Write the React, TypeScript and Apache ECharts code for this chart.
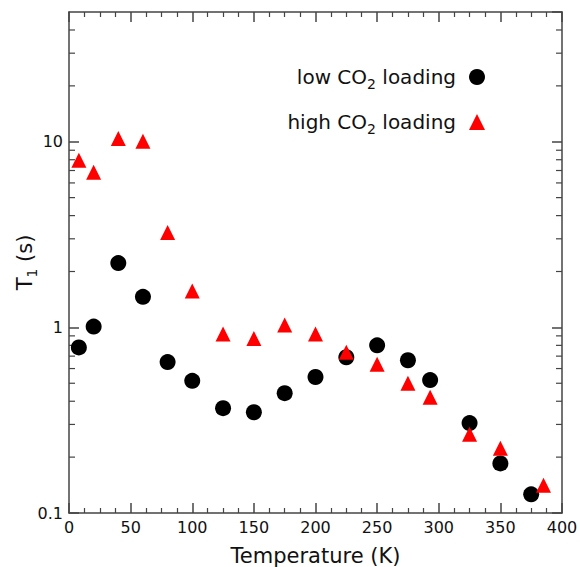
import React, { useEffect, useRef } from "react";
import * as echarts from "echarts";

// Temperature (K)
const lowT = [8, 20, 40, 60, 80, 100, 125, 150, 175, 200, 225, 250, 275, 293, 325, 350, 375];
// T1 (s), low CO2 loading
const lowT1 = [0.78, 1.01, 2.22, 1.46, 0.65, 0.515, 0.367, 0.349, 0.442, 0.54, 0.69, 0.80, 0.665, 0.52, 0.305, 0.185, 0.126];
const highT = [8, 20, 40, 60, 80, 100, 125, 150, 175, 200, 225, 250, 275, 293, 325, 350, 385];
// T1 (s), high CO2 loading
const highT1 = [7.94, 6.84, 10.4, 10.05, 3.24, 1.57, 0.92, 0.87, 1.03, 0.92, 0.735, 0.633, 0.5, 0.42, 0.266, 0.223, 0.141];

const yMinorTicks = [0.2, 0.3, 0.4, 0.5, 0.6, 0.7, 0.8, 0.9, 2, 3, 4, 5, 6, 7, 8, 9, 20, 30, 40];
const xTicks = { min: 0, max: 400, interval: 50 };
const yRange = { min: 0.1, max: 50 };

const FONT = "DejaVu Sans";
const AXIS_COLOR = "#444";
const TEXT_COLOR = "#111";

export default function App() {
  const ref = useRef<HTMLDivElement>(null);

  useEffect(() => {
    document.body.style.margin = "0";
    const chart = echarts.init(ref.current!, null, { renderer: "svg" });

    const commonX = {
      type: "value",
      min: xTicks.min,
      max: xTicks.max,
      interval: xTicks.interval,
      axisLine: { show: true, onZero: false, lineStyle: { color: AXIS_COLOR, width: 1.5 } },
      axisTick: { show: true, inside: true, length: 10, lineStyle: { color: AXIS_COLOR, width: 1.5 } },
      minorTick: { show: true, splitNumber: 4, length: 5, lineStyle: { color: AXIS_COLOR, width: 1.2 } },
      splitLine: { show: false },
    };
    const commonY = {
      type: "log",
      logBase: 10,
      min: yRange.min,
      max: yRange.max,
      axisLine: { show: true, onZero: false, lineStyle: { color: AXIS_COLOR, width: 1.5 } },
      axisTick: { show: true, inside: true, length: 10, lineStyle: { color: AXIS_COLOR, width: 1.5 } },
      splitLine: { show: false },
    };

    const legendRich = {
      a: { fontSize: 20, fontFamily: FONT, color: TEXT_COLOR },
      b: { fontSize: 14, fontFamily: FONT, color: TEXT_COLOR, verticalAlign: "bottom", padding: [0, 0, -4, 0] },
    };
    const legendFormatter = (name: string) =>
      name.startsWith("low") ? "{a|low CO}{b|2}{a| loading}" : "{a|high CO}{b|2}{a| loading}";

    const option: any = {
      animation: false,
      backgroundColor: "#fff",
      grid: { left: 69, right: 18, top: 12, bottom: 54, containLabel: false, outerBoundsMode: "none" },
      legend: [
        {
          data: ["low CO2 loading"],
          orient: "vertical",
          align: "right",
          right: 95,
          top: 67,
          padding: 0,
          itemWidth: 16,
          itemHeight: 16,
          formatter: legendFormatter,
          textStyle: { rich: legendRich, padding: [0, 8, 0, 0] },
        },
        {
          data: ["high CO2 loading"],
          orient: "vertical",
          align: "right",
          right: 95,
          top: 112,
          padding: 0,
          itemWidth: 16,
          itemHeight: 16,
          formatter: legendFormatter,
          textStyle: { rich: legendRich, padding: [0, 8, 0, 0] },
        },
      ],
      xAxis: [
        {
          ...commonX,
          position: "bottom",
          name: "Temperature (K)",
          nameLocation: "middle",
          nameGap: 32,
          nameMoveOverlap: false,
          nameTextStyle: { fontSize: 21, fontFamily: FONT, color: TEXT_COLOR },
          axisLabel: { fontSize: 16, fontFamily: FONT, color: TEXT_COLOR, margin: 6 },
        },
        {
          ...commonX,
          position: "top",
          axisLabel: { show: false },
        },
      ],
      yAxis: [
        {
          ...commonY,
          position: "left",
          name: "{a|T}{b|1}{a| (s)}",
          nameLocation: "middle",
          nameGap: 34,
          nameMoveOverlap: false,
          nameTextStyle: {
            rich: {
              a: { fontSize: 21, fontFamily: FONT, color: TEXT_COLOR },
              b: { fontSize: 14, fontFamily: FONT, color: TEXT_COLOR, verticalAlign: "bottom", padding: [0, 0, -4, 0] },
            },
          },
          axisLabel: {
            fontSize: 16,
            fontFamily: FONT,
            color: TEXT_COLOR,
            margin: 6,
            showMaxLabel: false,
            formatter: (v: number) => (v >= 1 ? String(Math.round(v)) : String(+v.toFixed(2))),
          },
        },
        {
          ...commonY,
          position: "right",
          axisLabel: { show: false },
        },
      ],
      series: [
        {
          name: "low CO2 loading",
          type: "scatter",
          symbol: "circle",
          symbolSize: 16,
          itemStyle: { color: "#000", opacity: 1 },
          data: lowT.map((t, i) => [t, lowT1[i]]),
          z: 3,
        },
        {
          name: "high CO2 loading",
          type: "scatter",
          symbol: "triangle",
          symbolSize: 15,
          itemStyle: { color: "#ff0000", opacity: 1 },
          data: highT.map((t, i) => [t, highT1[i]]),
          z: 4,
        },
        {
          name: "yMinorTicks",
          type: "custom",
          silent: true,
          clip: false,
          data: yMinorTicks.map((v) => [xTicks.min, v]),
          renderItem: (params: any, api: any) => {
            const v = api.value(1);
            const pl = api.coord([xTicks.min, v]);
            const pr = api.coord([xTicks.max, v]);
            const style = { stroke: AXIS_COLOR, lineWidth: 1.2 };
            return {
              type: "group",
              children: [
                { type: "line", shape: { x1: pl[0], y1: pl[1], x2: pl[0] + 6, y2: pl[1] }, style },
                { type: "line", shape: { x1: pr[0], y1: pr[1], x2: pr[0] - 6, y2: pr[1] }, style },
              ],
            };
          },
          z: 2,
        },
      ],
    };

    chart.setOption(option);
    return () => chart.dispose();
  }, []);

  return (
    <div
      ref={ref}
      style={{ position: "absolute", left: 0, top: 0, width: 580, height: 567 }}
    />
  );
}
